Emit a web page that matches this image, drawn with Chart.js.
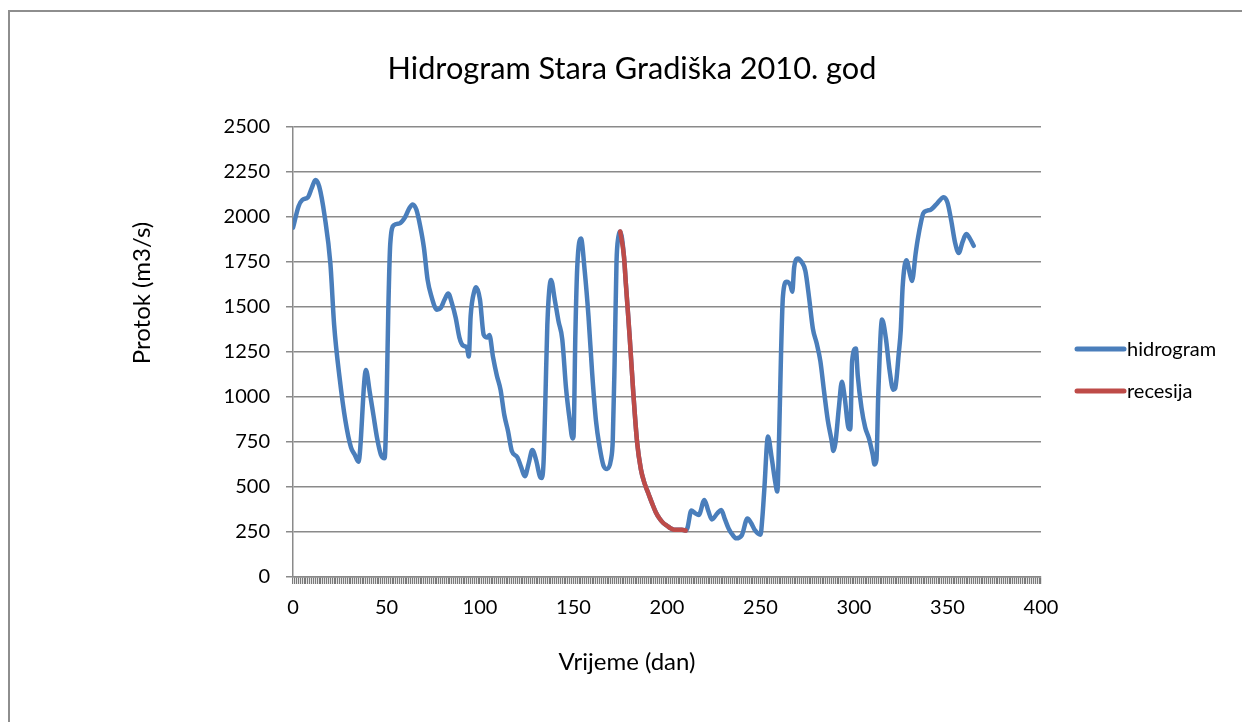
<!DOCTYPE html>
<html>
<head>
<meta charset="utf-8">
<script src="https://cdn.jsdelivr.net/npm/chart.js@4.4.1/dist/chart.umd.min.js"></script>
<style>
  html, body { margin: 0; padding: 0; background: #fff; }
  #wrap { position: relative; width: 1242px; height: 722px; }
</style>
</head>
<body>
<div id="wrap"><canvas id="c" width="1242" height="722"></canvas></div>
<script>
const chartTitle = 'Hidrogram Stara Gradiška 2010. god';
const xTitle = 'Vrijeme (dan)';
const yTitle = 'Protok (m3/s)';
const seriesNames = ['hidrogram', 'recesija'];
const xTickLabels = [0, 50, 100, 150, 200, 250, 300, 350, 400];
const yTickLabels = [0, 250, 500, 750, 1000, 1250, 1500, 1750, 2000, 2250, 2500];

const days = [0,3,5,8,10,12,14,17,20,22,25,28,31,33,35,39,41,43,45,47,49,50,51,52,54,57,60,62,64,66,68,70,72,74,77,79,81,83,85,87,89,91,93,94,95,97,98,100,102,104,105,107,109,111,113,115,117,120,122,124,126,128,130,132,133,134,135,136,138,140,142,144,146,148,149.5,150,151,152,154,156,158,160,162,164,166,168,170,171,172,173,174,175,177,178,180,182,184,186,188,190,192,194,196,198,200,202,204,206,208,210,211,213,215,217,220,222,224,227,229,231,233,235,237,240,243,245,247,250,251,252,254,256,258,259,260,261,262,264,266,267,268,270,272,274,276,278,280,282,284,286,288,289,290,292,293.5,295,297,298,299,301,302,304,306,308,310,311,312,313,315,317,319,321,322,324,325,326,328,330,331,333,334,336,337,339,341,344,348,350,352,354,356,358,360,362,364];
const flow = [1940,2060,2095,2110,2160,2205,2170,2000,1740,1400,1100,870,720,680,640,1150,1030,900,770,680,660,950,1500,1850,1955,1965,2000,2045,2070,2040,1950,1830,1650,1560,1485,1495,1540,1575,1520,1440,1330,1285,1275,1225,1450,1590,1610,1540,1345,1330,1345,1220,1120,1040,900,810,700,665,610,560,630,705,650,560,550,640,1000,1400,1650,1540,1420,1320,1050,870,770,780,1350,1720,1880,1700,1450,1130,870,720,620,600,650,760,1200,1750,1890,1920,1780,1630,1340,1020,750,600,520,465,410,360,325,300,285,270,262,262,262,258,275,370,355,345,428,370,320,355,372,320,268,235,215,232,325,300,260,235,330,480,780,660,520,475,800,1250,1560,1640,1620,1585,1720,1770,1750,1700,1550,1380,1300,1200,1030,870,760,700,740,950,1085,1000,830,820,1200,1270,1120,940,830,770,680,625,650,1020,1430,1330,1150,1040,1048,1250,1370,1610,1760,1680,1645,1800,1870,1980,2020,2035,2040,2070,2110,2080,1980,1860,1800,1860,1905,1880,1840];

const recDays = [175,177,178,180,182,184,186,188,190,192,194,196,198,200,202,204,206,208,210];
const recFlow = [1920,1780,1630,1340,1020,750,600,520,465,410,360,325,300,285,270,262,262,262,258];

const colors = ['#4a7ebb', '#be4b48'];
const FONT = 'Lato, "Open Sans", sans-serif';

const toXY = (xs, ys) => xs.map((x, i) => ({ x: x, y: ys[i] }));

const textPlugin = {
  id: 'texts',
  afterDraw(chart) {
    const ctx = chart.ctx;
    ctx.save();
    // outer frame (left and top edges visible)
    ctx.strokeStyle = '#8e8e8e';
    ctx.lineWidth = 2;
    ctx.beginPath();
    ctx.moveTo(9, 722);
    ctx.lineTo(9, 11);
    ctx.lineTo(1242, 11);
    ctx.stroke();
    ctx.fillStyle = '#000';
    // title, fitted to width
    ctx.font = '30px ' + FONT;
    const w = ctx.measureText(chartTitle).width;
    const size = 30 * 489 / w;
    ctx.font = size.toFixed(2) + 'px ' + FONT;
    ctx.textAlign = 'center';
    ctx.textBaseline = 'alphabetic';
    ctx.fillText(chartTitle, 632, 79);
    // x axis title
    ctx.font = '24px ' + FONT;
    ctx.fillText(xTitle, 627, 670);
    // y axis title
    ctx.save();
    ctx.translate(150, 293);
    ctx.rotate(-Math.PI / 2);
    ctx.fillText(yTitle, 0, 0);
    ctx.restore();
    // legend
    ctx.font = '20px ' + FONT;
    ctx.textAlign = 'left';
    ctx.textBaseline = 'middle';
    const ly = [349, 391];
    chart.data.datasets.forEach((ds, i) => {
      ctx.strokeStyle = ds.borderColor;
      ctx.lineWidth = 5;
      ctx.lineCap = 'round';
      ctx.beginPath();
      ctx.moveTo(1077, ly[i]);
      ctx.lineTo(1124, ly[i]);
      ctx.stroke();
      ctx.fillStyle = '#000';
      ctx.fillText(ds.label, 1127, ly[i] + 1);
    });
    ctx.restore();
  }
};

new Chart(document.getElementById('c'), {
  type: 'line',
  data: {
    datasets: [
      {
        label: seriesNames[0],
        data: toXY(days, flow),
        borderColor: colors[0],
        backgroundColor: colors[0],
        borderWidth: 4.5,
        pointRadius: 0,
        cubicInterpolationMode: 'monotone',
        borderCapStyle: 'round',
        borderJoinStyle: 'round',
        fill: false,
        order: 2
      },
      {
        label: seriesNames[1],
        data: toXY(recDays, recFlow),
        borderColor: colors[1],
        backgroundColor: colors[1],
        borderWidth: 4.5,
        pointRadius: 0,
        cubicInterpolationMode: 'monotone',
        borderCapStyle: 'round',
        borderJoinStyle: 'round',
        fill: false,
        order: 1
      }
    ]
  },
  options: {
    responsive: false,
    animation: false,
    events: [],
    layout: { padding: { top: 127, right: 201, bottom: 0, left: 0 } },
    plugins: {
      legend: { display: false },
      title: { display: false },
      tooltip: { enabled: false }
    },
    scales: {
      x: {
        type: 'linear',
        min: xTickLabels[0],
        max: xTickLabels[xTickLabels.length - 1],
        afterFit(scale) { scale.height = 145; },
        grid: { drawOnChartArea: false, drawTicks: true, tickLength: 7, color: '#7a7a7a', lineWidth: 1.2 },
        border: { display: true, color: '#8a8a8a', width: 1.5 },
        ticks: {
          stepSize: 1,
          autoSkip: false,
          maxRotation: 0,
          minRotation: 0,
          padding: 12,
          color: '#000',
          font: { family: FONT, size: 20 },
          callback: (v) => (xTickLabels.includes(v) ? String(v) : '')
        }
      },
      y: {
        type: 'linear',
        min: yTickLabels[0],
        max: yTickLabels[yTickLabels.length - 1],
        afterFit(scale) { scale.width = 293; },
        grid: { drawOnChartArea: true, drawTicks: true, tickLength: 7, color: '#8a8a8a', lineWidth: 1.5 },
        border: { display: true, color: '#8a8a8a', width: 1.5 },
        ticks: {
          stepSize: yTickLabels[1] - yTickLabels[0],
          padding: 16,
          color: '#000',
          font: { family: FONT, size: 20 },
          callback: (v) => String(v)
        }
      }
    }
  },
  plugins: [textPlugin]
});
</script>
</body>
</html>
